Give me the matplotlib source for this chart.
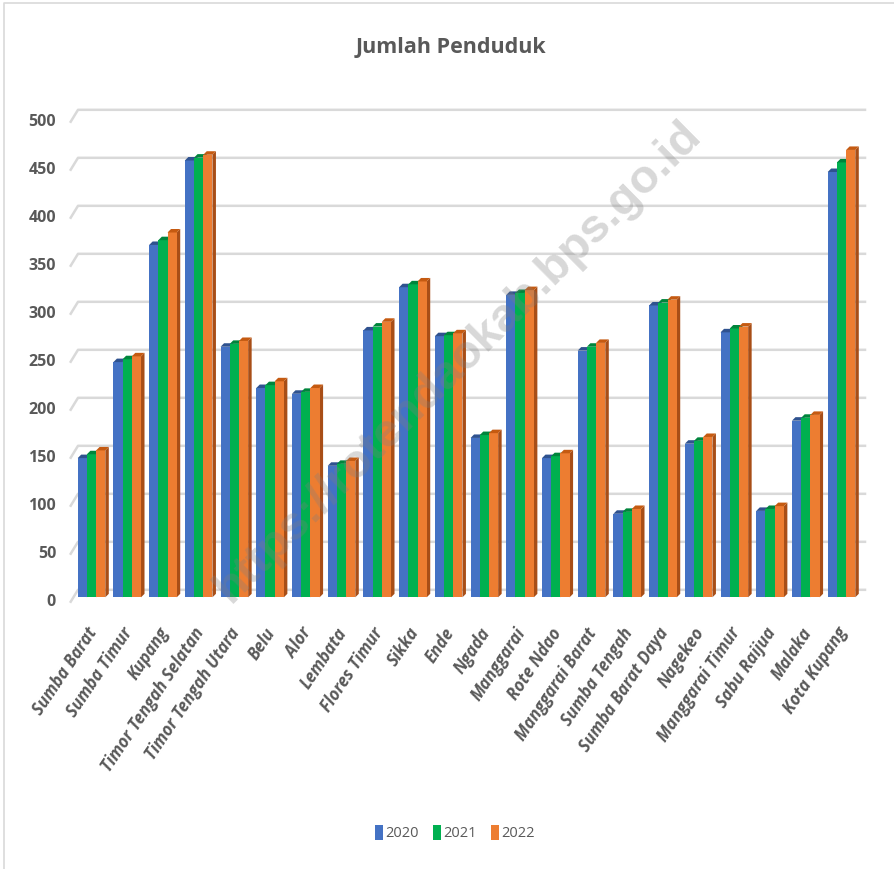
import matplotlib
matplotlib.use("Agg")
import matplotlib.pyplot as plt
import matplotlib.transforms as mtransforms
from matplotlib.patches import Polygon, Patch
from matplotlib.lines import Line2D

# Jumlah penduduk (ribu jiwa) per kabupaten/kota, NTT
kabupaten = [
    "Sumba Barat", "Sumba Timur", "Kupang", "Timor Tengah Selatan",
    "Timor Tengah Utara", "Belu", "Alor", "Lembata", "Flores Timur",
    "Sikka", "Ende", "Ngada", "Manggarai", "Rote Ndao", "Manggarai Barat",
    "Sumba Tengah", "Sumba Barat Daya", "Nagekeo", "Manggarai Timur",
    "Sabu Raijua", "Malaka", "Kota Kupang",
]
pop_2020 = [145, 245, 367, 455, 261, 218, 212, 137, 278, 323, 272, 166,
            315, 145, 257, 87, 304, 160, 276, 90, 184, 443]
pop_2021 = [149, 248, 372, 458, 264, 221, 214, 139, 282, 326, 273, 169,
            317, 147, 261, 89, 307, 163, 280, 92, 187, 453]
pop_2022 = [153, 251, 380, 461, 267, 225, 218, 142, 287, 329, 275, 171,
            320, 150, 265, 92, 310, 167, 282, 95, 190, 466]
years = ["2020", "2021", "2022"]
y_ticks = [0, 50, 100, 150, 200, 250, 300, 350, 400, 450, 500]

series = [pop_2020, pop_2021, pop_2022]
front = ["#4472C4", "#00B050", "#ED7D31"]
top = ["#2F528F", "#00853C", "#C55A11"]
side = ["#2B4A82", "#007A36", "#A84E17"]

plt.rcParams["font.family"] = ["Open Sans", "DejaVu Sans"]
txt = "#595959"

W, H = 895, 869
fig = plt.figure(figsize=(W / 100, H / 100), dpi=100)
# axes in pixel terms: x 70..870, y 100..610 (from top)
ax = fig.add_axes([70 / W, (H - 610) / H, 800 / W, 510 / H])
px_x = 35.714   # px per category
px_y = 0.96     # px per unit
ax.set_xlim((70 - 91.5) / px_x, (870 - 91.5) / px_x)
ax.set_ylim((597.3 - 610) / px_y, (597.3 - 100) / px_y)
for s in ax.spines.values():
    s.set_visible(False)
ax.set_facecolor("none")

# back-wall gridlines with slanted left wall
back_dy = 7.8
x_front = (70.7 - 91.5) / px_x
x_back = (78.0 - 91.5) / px_x
x_right = (865 - 91.5) / px_x
for v in y_ticks:
    ax.add_line(Line2D([x_front, x_back, x_right], [v - 4.6, v + back_dy, v + back_dy],
                       color="#D9D9D9", lw=1.8, zorder=0.5, clip_on=False))

bw = 9.2 / px_x
ddx = 3.5 / px_x
ddy = 3.5 / px_y
for k, vals in enumerate(series):
    xs = [i + (k - 1) * bw for i in range(len(kabupaten))]
    ax.bar(xs, vals, width=bw, color=front[k], zorder=2 + k, linewidth=0)
    for x, h in zip(xs, vals):
        x0, x1 = x - bw / 2, x + bw / 2
        ax.add_patch(Polygon([(x1, 0), (x1 + ddx, ddy), (x1 + ddx, h + ddy), (x1, h)],
                             closed=True, fc=side[k], ec="none", zorder=1.9 + k))
        ax.add_patch(Polygon([(x0, h), (x1, h), (x1 + ddx, h + ddy), (x0 + ddx, h + ddy)],
                             closed=True, fc=top[k], ec="none", zorder=2.1 + k))

ax.set_yticks(y_ticks)
ax.set_yticklabels([str(v) for v in y_ticks], fontsize=11.5, fontweight="bold", color=txt)
ax.tick_params(axis="y", length=0, pad=10)
off = mtransforms.ScaledTranslation(0, -3 / 100, fig.dpi_scale_trans)
for lbl in ax.get_yticklabels():
    lbl.set_transform(lbl.get_transform() + off)

ax.set_xticks(range(len(kabupaten)))
ax.set_xticklabels(kabupaten, rotation=56, ha="right", va="center",
                   rotation_mode="anchor", fontsize=12, fontweight="bold",
                   fontstyle="italic", color=txt)
ax.tick_params(axis="x", length=0, pad=14)
offx = mtransforms.ScaledTranslation(2 / 100, 0, fig.dpi_scale_trans)
for lbl in ax.get_xticklabels():
    lbl.set_transform(lbl.get_transform() + offx)

fig.text(451 / W, 1 - 48 / H, "Jumlah Penduduk", ha="center", va="center",
         fontsize=15.5, fontweight="bold", color=txt)

handles = [Patch(facecolor=front[k], edgecolor="none", label=years[k]) for k in range(3)]
fig.legend(handles=handles, loc="center", bbox_to_anchor=(455 / W, 1 - 833 / H),
           ncol=3, frameon=False, handlelength=0.55, handleheight=1.3,
           handletextpad=0.15, columnspacing=1.0,
           prop={"size": 10.5}, labelcolor=txt)

# watermark
fig.text(458 / W, 1 - 362 / H, "https://rotendaokab.bps.go.id", rotation=44.7,
         ha="center", va="center", fontsize=34, fontweight="bold",
         family="Liberation Sans", color="#7F7F7F", alpha=0.3, zorder=10)

# chart border (top and left only visible)
fig.add_artist(Line2D([4 / W, 4 / W, 1], [0, 1 - 3 / H, 1 - 3 / H],
                      transform=fig.transFigure, color="#D9D9D9", lw=1.2))

fig.savefig("out.png", dpi=100)
